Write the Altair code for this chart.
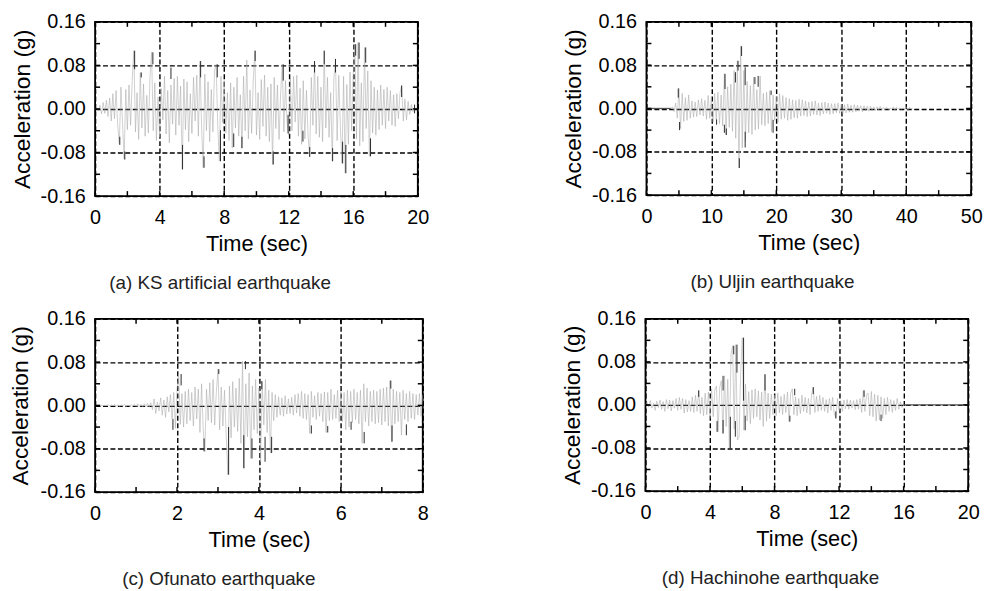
import altair as alt
import pandas as pd

FONT = "Liberation Sans"

# ---------------- data (acceleration in milli-g) ----------------
# (a) KS artificial earthquake, sampled every 0.1 s from t = 0
A_T0, A_DT = 0.0, 0.1
A_VALS = [
    0, 3, -4, 7, -9, 12, -8, 16, -14, 20,
    -22, 28, -18, 34, -30, -64, 40, -26, -92, 36,
    -38, 44, -30, 52, 107, -42, 30, -56, 67, -35,
    46, -50, 25, -44, 58, 104, -40, 48, -58, 22,
    -52, 38, -20, 60, -46, 34, -62, 44, -28, 56,
    -48, 60, -30, 42, -111, 55, -38, 50, -60, 28,
    -45, 58, -22, 62, -50, 88, -34, -108, 64, -40,
    50, -60, 36, -42, 70, 82, -30, -96, 60, -25,
    52, -44, 30, -58, 48, -72, 40, -35, 58, -50,
    26, -72, 60, -40, 90, -55, 35, -45, 50, 107,
    -48, 30, -56, 54, -32, 62, -50, 40, -60, 46,
    -102, 58, -36, 44, -56, 30, 82, -42, 52, -28,
    -48, 56, -40, 60, -24, 62, -50, 38, -65, 52,
    -55, 34, -50, -88, 58, -30, 88, -46, 60, -52,
    40, -60, 107, -35, 58, -52, 30, -96, 56, 90,
    -58, 62, -30, -100, 60, -118, 45, -65, 68, -40,
    66, 119, -55, 122, -68, 48, -60, 113, -36, 70,
    -87, 52, -44, 40, -48, 35, -38, 44, -30, 36,
    -36, 40, -22, 34, -30, 26, -32, 28, -18, 30,
    43, -22, 18, -20, 14, -10, 8, -5, 0,
]
A_QUIET = []
A_SPIKES = [
    (2.45, 73, 107), (3.58, 82, 104), (6.54, 58, 88), (7.57, 58, 82),
    (7.77, -96, -39), (9.92, 88, 107), (11.66, 52, 82), (11.96, -45, -11),
    (13.6, 67, 88), (14.2, 82, 107), (14.9, 67, 92), (16.15, 98, 119),
    (16.36, 92, 122), (16.77, 85, 113), (15.54, -118, -66), (15.34, -100, -60),
    (14.72, -96, -72), (5.42, -111, -66), (6.75, -108, -87), (8.59, -70, -45),
    (9.1, -72, -51), (11.04, -102, -78), (12.88, -60, -40), (13.3, -88, -70),
    (17.07, -87, -54), (19.0, 22, 43), (1.53, -66, -51), (1.84, -93, -78),
    (2.86, 58, 67), (4.7, 55, 76), (19.8, -8, 8),
]

# (b) Uljin earthquake, sampled every 0.25 s from t = 3.75 (flat record before)
B_QUIET = [0.0, 3.75]
B_T0, B_DT = 3.75, 0.25
B_VALS = [
    0,
    3, -6, 10, -18,
    37, -37, 28, -24,
    20, -22, 25, -18,
    14, -16, 12, -15,
    16, -12, 18, -14,
    15, -20, 24, -18,
    22, -25, 28, -20,
    30, -28, 25, -32,
    64, -49, 40, -35,
    45, -42, 70, -55,
    88, -110, 115, -73,
    70, -60, 50, -45,
    42, -48, 58, -40,
    35, -38, 60, -30,
    28, -32, 30, -28,
    33, -43, 25, -22,
    22, -26, 27, -20,
    24, -18, 20, -22,
    18, -20, 16, -17,
    15, -18, 17, -14,
    16, -13, 14, -15,
    12, -14, 13, -11,
    14, -12, 10, -13,
    11, -10, 12, -9,
    10, -11, 9, -10,
    9, -8, 10, -9,
    8, -9, 7, -8,
    8, -7, 6, -7,
    7, -6, 6, -5,
    5, -6, 5, -4,
    4, -5, 4, -4,
    3, -4, 3, -3,
    4, -3, 2, -2,
    2, -2, 1, -1,
    3, -3, 2, -1,
    1, -1, 1, -1,
    3, -4, 2, -1,
    0,
]
B_SPIKES = [
    (4.9, 20, 37), (5.1, -40, -25), (12.1, 36, 64), (12.0, -45, -30),
    (12.3, -49, -37), (13.7, 48, 67), (14.1, 70, 88), (14.3, -110, -92),
    (14.65, 97, 115), (15.2, -72, -43), (15.2, 43, 76), (16.7, 45, 58),
    (17.2, 40, 60), (19.5, -45, -21), (19.2, 25, 33), (10.8, -30, -20),
]

# (c) Ofunato earthquake, sampled every 0.04 s from t = 0
C_T0, C_DT = 0.0, 0.04
C_VALS = [
    0, 0, 0, 0, 0, 0, 0, 0, 1, -1,
    1, -1, 2, -1, 1, -2, 1, -1, 2, -2,
    1, -2, 2, -1, 2, -2, 3, -2, 2, -3,
    3, -2, 4, -3, 5, -8, 12, -15, 6, -10,
    14, -18, 10, -22, 16, -12, 20, -25, 24, -42,
    30, 58, -35, 22, -40, 26, -34, 30, -28, 24,
    -38, 34, -25, 30, -50, 40, -44, -85, 30, -28,
    42, -32, 48, -36, 25, 67, -45, 34, -38, 28,
    -52, -128, 36, -60, 44, -40, 32, -48, 50, -70,
    82, -116, 40, -58, 60, -98, 36, -45, 48, -52,
    32, -104, 44, -36, 48, -50, 28, -88, 24, -28,
    20, -22, 16, -18, 14, -20, 18, -16, 12, -15,
    15, -18, 20, -14, 22, -20, 26, -24, 22, -26,
    20, -52, 26, -22, 18, -26, 24, -20, 22, -30,
    25, -50, 24, -28, 30, -26, 20, -24, 28, -30,
    26, -30, 24, -45, 28, -40, 26, -32, 30, -26,
    24, -34, 28, -70, 40, -30, 32, -38, 26, -30,
    28, -34, 26, -32, 30, -36, 32, -30, 34, -38,
    46, -67, 30, -34, 26, -30, 24, -55, 28, -26,
    22, -30, 26, -24, 22, -26, 20, -18, 22, -20,
    20,
]
C_QUIET = []
C_SPIKES = [
    (3.26, -128, -40), (3.67, 67, 82), (3.63, -116, -55), (3.83, -98, -61),
    (4.15, -104, -58), (4.31, -88, -58), (3.02, 58, 67), (2.1, 37, 58),
    (2.66, -85, -61), (7.25, -67, -37), (7.22, 31, 46), (6.57, -70, -49),
    (5.28, -52, -37), (5.68, -50, -38), (6.25, -45, -30), (7.6, -55, -35),
    (1.9, -45, -25), (4.07, 30, 45),
]

# (d) Hachinohe earthquake, sampled every 0.1 s from t = 0 (flat record after 16 s)
D_T0, D_DT = 0.0, 0.1
D_VALS = [
    0, 5, -4, 8, -6, 3, -10, 7, -5, 9,
    -8, 6, -12, 10, -7, 9, -11, 8, -6, 12,
    -10, 14, -8, 12, -15, 10, -13, 8, -12, 15,
    -14, 18, -12, 27, -16, 14, -20, 22, -18, 24,
    -25, 30, -22, 28, 35, -50, 32, 45, -53, 54,
    -40, 48, -80, 94, 110, -45, 112, -65, -59, 60,
    125, -47, 39, -30, 25, -35, 28, -25, 30, -22,
    26, -28, 24, -40, 57, -30, 22, -25, 20, -18,
    18, -20, 22, -15, 16, -18, 20, -14, 24, -31,
    22, 30, -18, 15, -20, 12, -16, 18, -12, 14,
    -15, 12, -18, 20, 33, -14, 16, -12, 18, -10,
    14, -12, 10, -15, 12, -10, 14, -16, -25, 12,
    -10, 8, -12, 9, -7, 10, -8, 9, -6, 8,
    -9, 10, -8, 12, -14, 27, -12, 18, 22, -20,
    25, -22, 20, -30, 18, -28, 15, -25, 12, -18,
    14, -12, 10, -14, 8, -10, 12, -8, 6, -5,
    0,
]
D_QUIET = [16.0, 20.0]
D_SPIKES = [
    (6.08, 8, 125), (5.67, 60, 112), (5.47, 94, 110), (5.26, -80, -22),
    (5.57, -59, -30), (4.81, 27, 54), (4.81, -53, -28), (4.44, -50, -30),
    (7.41, 27, 57), (6.18, -47, -20), (8.95, -31, -20), (9.25, 18, 30),
    (10.4, 20, 33), (11.8, -25, -12), (13.55, 15, 27), (14.6, -30, -18),
    (3.3, 15, 27),
]

Y_MAJOR = [-0.16, -0.08, 0.0, 0.08, 0.16]
Y_MINOR = [-0.16, -0.12, -0.08, -0.04, 0.0, 0.04, 0.08, 0.12, 0.16]

PANELS = [
    dict(vals=A_VALS, t0=A_T0, dt=A_DT, quiet=A_QUIET, spikes=A_SPIKES, xmax=20,
         xmajor=[0, 4, 8, 12, 16, 20], xminor=list(range(0, 21, 2)),
         caption="(a) KS artificial earthquake", w=326, h=176, tpad=6),
    dict(vals=B_VALS, t0=B_T0, dt=B_DT, quiet=B_QUIET, spikes=B_SPIKES, xmax=50,
         xmajor=[0, 10, 20, 30, 40, 50], xminor=list(range(0, 51, 5)),
         caption="(b) Uljin earthquake", w=328, h=175, tpad=6),
    dict(vals=C_VALS, t0=C_T0, dt=C_DT, quiet=C_QUIET, spikes=C_SPIKES, xmax=8,
         xmajor=[0, 2, 4, 6, 8], xminor=list(range(0, 9, 1)),
         caption="(c) Ofunato earthquake", w=331, h=175, tpad=8),
    dict(vals=D_VALS, t0=D_T0, dt=D_DT, quiet=D_QUIET, spikes=D_SPIKES, xmax=20,
         xmajor=[0, 4, 8, 12, 16, 20], xminor=list(range(0, 21, 2)),
         caption="(d) Hachinohe earthquake", w=326, h=174, tpad=6),
]

TICK_LEN = 5


def make_panel(p):
    ts = [round(p["t0"] + i * p["dt"], 4) for i in range(len(p["vals"]))]
    sig = pd.DataFrame({"t": ts, "a": [v / 1000.0 for v in p["vals"]]})
    quiet = pd.DataFrame({"t": p["quiet"], "a": [0.0] * len(p["quiet"])})
    spk = pd.DataFrame([{"t": t, "a": lo / 1000.0, "hi": hi / 1000.0}
                        for t, lo, hi in p["spikes"]])
    xt = pd.DataFrame({"t": p["xminor"]})
    yt = pd.DataFrame({"a": Y_MINOR})

    xs = alt.Scale(domain=[0, p["xmax"]], nice=False, zero=False)
    ys = alt.Scale(domain=[-0.16, 0.16], nice=False, zero=False)
    W, H = p["w"], p["h"]

    xaxis = alt.Axis(values=p["xmajor"], title="Time (sec)", grid=True,
                     gridColor="black", gridDash=[5, 2.5], gridWidth=1.4,
                     ticks=False, domain=False, labelFlush=False,
                     labelFont=FONT, labelFontSize=20, labelColor="black",
                     labelPadding=12, titleFont=FONT, titleFontSize=22,
                     titleFontWeight="normal", titleColor="black", titlePadding=6)
    yaxis = alt.Axis(values=Y_MAJOR, title="Acceleration (g)", grid=True,
                     gridColor="black", gridDash=[5, 2.5], gridWidth=1.4,
                     ticks=False, domain=False,
                     labelExpr="replace(format(datum.value, '.2f'), '\u2212', '-')",
                     labelFont=FONT, labelFontSize=20, labelColor="black",
                     labelPadding=10, titleFont=FONT, titleFontSize=23,
                     titleFontWeight="normal", titleColor="black",
                     titlePadding=p["tpad"])

    X = alt.X("t:Q", scale=xs, axis=xaxis, title="Time (sec)")
    Y = alt.Y("a:Q", scale=ys, axis=yaxis, title="Acceleration (g)")

    layers = [alt.Chart(sig).mark_line(color="#a8a8a8", strokeWidth=0.55).encode(x=X, y=Y)]
    if len(quiet):
        layers.append(alt.Chart(quiet).mark_line(color="#555555", strokeWidth=1.3)
                      .encode(x=X, y=Y))
    layers.append(alt.Chart(spk).mark_rule(color="#2a2a2a", strokeWidth=1.0).encode(
        x=X, y=Y, y2="hi:Q"))
    layers.append(alt.Chart(xt).mark_rule(color="black", strokeWidth=1.5).encode(
        x=X, y=alt.value(H), y2=alt.value(H - TICK_LEN)))
    layers.append(alt.Chart(xt).mark_rule(color="black", strokeWidth=1.5).encode(
        x=X, y=alt.value(0), y2=alt.value(TICK_LEN)))
    layers.append(alt.Chart(yt).mark_rule(color="black", strokeWidth=1.5).encode(
        y=Y, x=alt.value(0), x2=alt.value(TICK_LEN)))
    layers.append(alt.Chart(yt).mark_rule(color="black", strokeWidth=1.5).encode(
        y=Y, x=alt.value(W), x2=alt.value(W - TICK_LEN)))

    return alt.layer(*layers).properties(
        width=W, height=H,
        title=alt.TitleParams(p["caption"], orient="bottom", anchor="middle",
                              frame="bounds", font=FONT, fontSize=19,
                              fontWeight="normal", color="#222222", offset=20),
    )


panels = [make_panel(p) for p in PANELS]
row1 = alt.hconcat(panels[0], panels[1], spacing=132)
row2 = alt.hconcat(panels[2], panels[3], spacing=132)
chart = alt.vconcat(row1, row2, spacing=14).properties(
    padding={"left": 0, "top": 0, "right": 0, "bottom": 0},
    background="white",
).configure_view(stroke="black", strokeWidth=1.8)

chart.save("out.html", embed_options={"renderer": "svg", "actions": False})
